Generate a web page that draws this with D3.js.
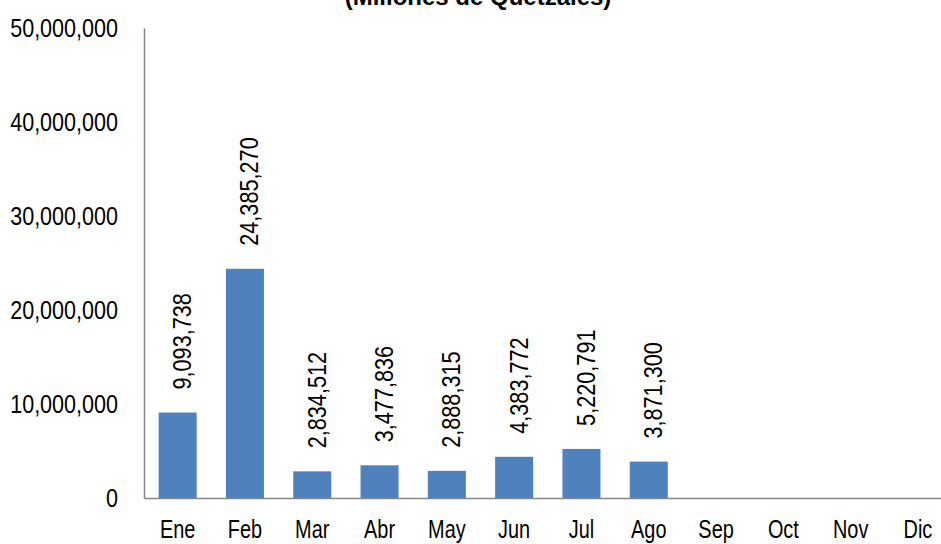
<!DOCTYPE html>
<html>
<head>
<meta charset="utf-8">
<script src="https://cdn.jsdelivr.net/npm/d3@7"></script>
<style>
  body { margin: 0; background: #fff; }
  svg { display: block; }
  text { font-family: "Liberation Sans Narrow", "Arial Narrow", "Liberation Sans", sans-serif; fill: #000; }
</style>
</head>
<body>
<div id="chart"></div>
<script>
// Data
var months = ["Ene", "Feb", "Mar", "Abr", "May", "Jun", "Jul", "Ago", "Sep", "Oct", "Nov", "Dic"];
var values = [9093738, 24385270, 2834512, 3477836, 2888315, 4383772, 5220791, 3871300, null, null, null, null];
var yTicks = [0, 10000000, 20000000, 30000000, 40000000, 50000000];

var width = 941, height = 544;
var plotLeft = 144, plotBottom = 498, plotTop = 28;
var fontSize = "25.5px";

var svg = d3.select("#chart").append("svg")
	.attr("width", width)
	.attr("height", height);

var x = d3.scaleBand()
	.domain(months)
	.range([plotLeft, plotLeft + 12 * 67.3])
	.paddingInner(0.435)
	.paddingOuter(0.2175);

var y = d3.scaleLinear()
	.domain([0, 50000000])
	.range([plotBottom, plotTop]);

var fmt = d3.format(",");

// no narrow font installed, so squeeze the text to look like Arial Narrow
function squeeze(sel, ratio) {
	sel.each(function(){
		var len = this.getComputedTextLength();
		d3.select(this)
			.attr("textLength", len * ratio)
			.attr("lengthAdjust", "spacingAndGlyphs");
	});
}

// title (cut off at top)
svg.append("text")
	.attr("x", 478)
	.attr("y", 5)
	.attr("text-anchor", "middle")
	.style("font-family", "'Liberation Sans', Arial, sans-serif")
	.style("font-weight", "bold")
	.style("font-size", "24px")
	.text("(Millones de Quetzales)");

// bars
var data = months.map(function(m, i){ return {m: m, v: values[i]}; })
	.filter(function(d){ return d.v != null; });

svg.append("g").selectAll("rect")
	.data(data)
	.enter().append("rect")
	.attr("x", function(d){ return x(d.m); })
	.attr("y", function(d){ return y(d.v); })
	.attr("width", x.bandwidth())
	.attr("height", function(d){ return plotBottom - y(d.v); })
	.attr("fill", "#4F81BD");

// value labels, rotated
svg.append("g").selectAll("text")
	.data(data)
	.enter().append("text")
	.attr("transform", function(d){
		return "translate(" + (x(d.m) + x.bandwidth() / 2) + "," + (y(d.v) - 23) + ") rotate(-90)";
	})
	.attr("dy", "0.53em")
	.style("font-size", fontSize)
	.text(function(d){ return fmt(d.v); })
	.call(squeeze, 0.85);

// y axis
var yAxis = d3.axisLeft(y)
	.tickValues(yTicks)
	.tickSize(0)
	.tickPadding(26)
	.tickFormat(fmt);
var gy = svg.append("g")
	.attr("transform", "translate(" + plotLeft + ",0)")
	.call(yAxis);
gy.select(".domain").attr("stroke", "#868686").attr("stroke-width", 1.5);
gy.selectAll("text")
	.style("font-size", fontSize)
	.style("font-family", null)
	.call(squeeze, 0.845);

// x axis
var xAxis = d3.axisBottom(x)
	.tickSize(0)
	.tickPadding(22);
var gx = svg.append("g")
	.attr("transform", "translate(0," + plotBottom + ")")
	.call(xAxis);
gx.select(".domain").attr("stroke", "#868686").attr("stroke-width", 1.5);
gx.selectAll("text")
	.style("font-size", fontSize)
	.style("font-family", null)
	.call(squeeze, 0.78);
</script>
</body>
</html>
